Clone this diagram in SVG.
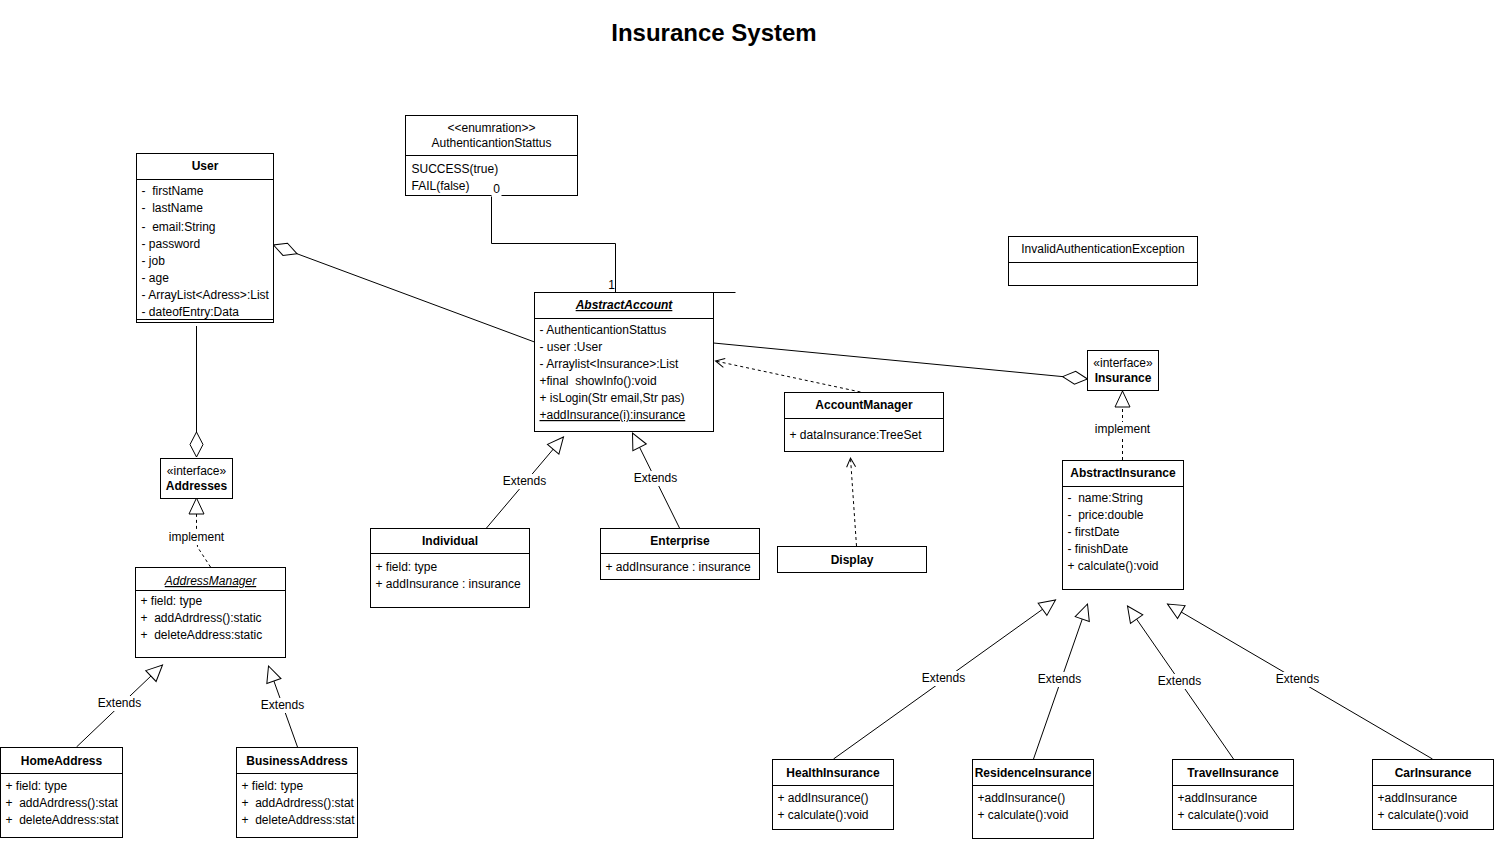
<svg xmlns="http://www.w3.org/2000/svg" width="1494" height="843" viewBox="0 0 1494 843">
<style>
.box{fill:#fff;stroke:#000;stroke-width:1}
.sep{stroke:#000;stroke-width:1;fill:none}
.t{font-family:"Liberation Sans",Arial,Helvetica,sans-serif;font-size:12px;fill:#000}
.b{font-weight:bold}
.c{text-anchor:middle}
.i{font-style:italic}
.u{text-decoration:underline}
.edge{fill:none;stroke:#000;stroke-width:1}
.dash{stroke-dasharray:3 3}
.lbl{fill:#fff;stroke:none}
</style>
<defs>
<marker id="tri" markerUnits="userSpaceOnUse" markerWidth="20" markerHeight="20" viewBox="0 0 20 20" refX="18" refY="10" orient="auto">
<path d="M2,2.5 L18,10 L2,17.5 Z" fill="#fff" stroke="#000"/>
</marker>
<marker id="dia" markerUnits="userSpaceOnUse" markerWidth="28" markerHeight="16" viewBox="0 0 28 16" refX="26.5" refY="8" orient="auto">
<path d="M1.5,8 L14,1.5 L26.5,8 L14,14.5 Z" fill="#fff" stroke="#000"/>
</marker>
<marker id="open" markerUnits="userSpaceOnUse" markerWidth="12" markerHeight="12" viewBox="0 0 12 12" refX="10" refY="6" orient="auto">
<path d="M1,1.5 L10,6 L1,10.5" fill="none" stroke="#000"/>
</marker>
</defs>
<rect x="0" y="0" width="1494" height="843" fill="#fff"/>
<text x="714" y="41" class="t b c" style="font-size:24px">Insurance System</text>
<g transform="translate(0.5,0)">
<g id="connectors">
<path class="edge" d="M491,195.5 V243.5 H615 V292.5"/>
<text x="611" y="289" class="t c">1</text>
<path class="edge" d="M713,292.5 H735"/>
<path class="edge" d="M534,342 L273,245" marker-end="url(#dia)"/>
<path class="edge" d="M196,326 L196,457" marker-end="url(#dia)"/>
<path class="edge" d="M713,343 L1087,379" marker-end="url(#dia)"/>
<path class="edge dash" d="M860,392 L715,361" marker-end="url(#open)"/>
<path class="edge dash" d="M856,546 L850,458" marker-end="url(#open)"/>
<path class="edge dash" d="M210,567 L197,547 L196,528 L196,498" marker-end="url(#tri)"/>
<rect class="lbl" x="166" y="530" width="60" height="15"/>
<text x="196" y="541" class="t c">implement</text>
<path class="edge dash" d="M1122,460 L1122,391" marker-end="url(#tri)"/>
<rect class="lbl" x="1093" y="422" width="58" height="15"/>
<text x="1122" y="433" class="t c">implement</text>
<path class="edge" d="M76,747 L162,665" marker-end="url(#tri)"/>
<rect class="lbl" x="97" y="696" width="44" height="15"/>
<text x="119" y="707" class="t c">Extends</text>
<path class="edge" d="M297,747 L268,666" marker-end="url(#tri)"/>
<rect class="lbl" x="260" y="698" width="44" height="15"/>
<text x="282" y="709" class="t c">Extends</text>
<path class="edge" d="M486,528 L563,437" marker-end="url(#tri)"/>
<rect class="lbl" x="502" y="474" width="44" height="15"/>
<text x="524" y="485" class="t c">Extends</text>
<path class="edge" d="M679,528 L632,433" marker-end="url(#tri)"/>
<rect class="lbl" x="633" y="471" width="44" height="15"/>
<text x="655" y="482" class="t c">Extends</text>
<path class="edge" d="M833,759 L1055,600" marker-end="url(#tri)"/>
<rect class="lbl" x="921" y="671" width="44" height="15"/>
<text x="943" y="682" class="t c">Extends</text>
<path class="edge" d="M1033,759 L1087,604" marker-end="url(#tri)"/>
<rect class="lbl" x="1037" y="672" width="44" height="15"/>
<text x="1059" y="683" class="t c">Extends</text>
<path class="edge" d="M1233,759 L1127,606" marker-end="url(#tri)"/>
<rect class="lbl" x="1157" y="674" width="44" height="15"/>
<text x="1179" y="685" class="t c">Extends</text>
<path class="edge" d="M1432,759 L1167,604" marker-end="url(#tri)"/>
<rect class="lbl" x="1275" y="672" width="44" height="15"/>
<text x="1297" y="683" class="t c">Extends</text>
</g>
<g id="User">
<rect class="box" x="136" y="153.5" width="137" height="169"/>
<path class="sep" d="M136,179.5 H273 M136,319.5 H273"/>
<text x="204.5" y="170" class="t b c">User</text>
<text x="141" y="195" class="t">-&#160; firstName</text>
<text x="141" y="212" class="t">-&#160; lastName</text>
<text x="141" y="231" class="t">-&#160; email:String</text>
<text x="141" y="248" class="t">- password</text>
<text x="141" y="265" class="t">- job</text>
<text x="141" y="282" class="t">- age</text>
<text x="141" y="299" class="t">- ArrayList&lt;Adress&gt;:List</text>
<text x="141" y="316" class="t">- dateofEntry:Data</text>
</g>
<g id="AuthenticantionStattus">
<rect class="box" x="405" y="115.5" width="172" height="80"/>
<path class="sep" d="M405,155.5 H577"/>
<text x="491" y="132" class="t c">&lt;&lt;enumration&gt;&gt;</text>
<text x="491" y="147" class="t c">AuthenticantionStattus</text>
<text x="411" y="173" class="t">SUCCESS(true)</text>
<text x="411" y="190" class="t">FAIL(false)</text>
</g>
<g id="AbstractAccount">
<rect class="box" x="534" y="292.5" width="179" height="139"/>
<path class="sep" d="M534,318.5 H713"/>
<text x="623.5" y="309" class="t b i u c">AbstractAccount</text>
<text x="539" y="334" class="t">- AuthenticantionStattus</text>
<text x="539" y="351" class="t">- user :User</text>
<text x="539" y="368" class="t">- Arraylist&lt;Insurance&gt;:List</text>
<text x="539" y="385" class="t">+final&#160; showInfo():void</text>
<text x="539" y="402" class="t">+ isLogin(Str email,Str pas)</text>
<text x="539" y="419" class="t u">+addInsurance(i):insurance</text>
</g>
<g id="Addresses">
<rect class="box" x="160" y="458.5" width="72" height="40"/>
<text x="196" y="475" class="t c">«interface»</text>
<text x="196" y="490" class="t b c">Addresses</text>
</g>
<g id="AddressManager">
<rect class="box" x="135" y="567.5" width="150" height="90"/>
<path class="sep" d="M135,590.5 H285"/>
<text x="210" y="585" class="t i u c">AddressManager</text>
<text x="140" y="605" class="t">+ field: type</text>
<text x="140" y="622" class="t">+&#160; addAdrdress():static</text>
<text x="140" y="639" class="t">+&#160; deleteAddress:static</text>
</g>
<g id="HomeAddress">
<rect class="box" x="0" y="747.5" width="122" height="90"/>
<path class="sep" d="M0,773.5 H122"/>
<text x="61" y="765" class="t b c">HomeAddress</text>
<text x="5" y="790" class="t">+ field: type</text>
<text x="5" y="807" class="t">+&#160; addAdrdress():stat</text>
<text x="5" y="824" class="t">+&#160; deleteAddress:stat</text>
</g>
<g id="BusinessAddress">
<rect class="box" x="236" y="747.5" width="121" height="90"/>
<path class="sep" d="M236,773.5 H357"/>
<text x="296.5" y="765" class="t b c">BusinessAddress</text>
<text x="241" y="790" class="t">+ field: type</text>
<text x="241" y="807" class="t">+&#160; addAdrdress():stat</text>
<text x="241" y="824" class="t">+&#160; deleteAddress:stat</text>
</g>
<g id="Individual">
<rect class="box" x="370" y="528.5" width="159" height="79"/>
<path class="sep" d="M370,553.5 H529"/>
<text x="449.5" y="545" class="t b c">Individual</text>
<text x="375" y="571" class="t">+ field: type</text>
<text x="375" y="588" class="t">+ addInsurance : insurance</text>
</g>
<g id="Enterprise">
<rect class="box" x="600" y="528.5" width="159" height="51"/>
<path class="sep" d="M600,553.5 H759"/>
<text x="679.5" y="545" class="t b c">Enterprise</text>
<text x="605" y="571" class="t">+ addInsurance : insurance</text>
</g>
<g id="AccountManager">
<rect class="box" x="784" y="392.5" width="159" height="59"/>
<path class="sep" d="M784,418.5 H943"/>
<text x="863.5" y="409" class="t b c">AccountManager</text>
<text x="789" y="439" class="t">+ dataInsurance:TreeSet</text>
</g>
<g id="Display">
<rect class="box" x="777" y="546.5" width="149" height="26"/>
<text x="851.5" y="564" class="t b c">Display</text>
</g>
<g id="InvalidAuthenticationException">
<rect class="box" x="1008" y="236.5" width="189" height="49"/>
<path class="sep" d="M1008,262.5 H1197"/>
<text x="1102.5" y="253" class="t c">InvalidAuthenticationException</text>
</g>
<g id="Insurance">
<rect class="box" x="1087" y="350.5" width="71" height="40"/>
<text x="1122.5" y="367" class="t c">«interface»</text>
<text x="1122.5" y="382" class="t b c">Insurance</text>
</g>
<g id="AbstractInsurance">
<rect class="box" x="1062" y="460.5" width="121" height="129"/>
<path class="sep" d="M1062,486.5 H1183"/>
<text x="1122.5" y="477" class="t b c">AbstractInsurance</text>
<text x="1067" y="502" class="t">-&#160; name:String</text>
<text x="1067" y="519" class="t">-&#160; price:double</text>
<text x="1067" y="536" class="t">- firstDate</text>
<text x="1067" y="553" class="t">- finishDate</text>
<text x="1067" y="570" class="t">+ calculate():void</text>
</g>
<g id="HealthInsurance">
<rect class="box" x="772" y="759.5" width="121" height="70"/>
<path class="sep" d="M772,785.5 H893"/>
<text x="832.5" y="777" class="t b c">HealthInsurance</text>
<text x="777" y="802" class="t">+ addInsurance()</text>
<text x="777" y="819" class="t">+ calculate():void</text>
</g>
<g id="ResidenceInsurance">
<rect class="box" x="972" y="759.5" width="121" height="79"/>
<path class="sep" d="M972,785.5 H1093"/>
<text x="1032.5" y="777" class="t b c">ResidenceInsurance</text>
<text x="977" y="802" class="t">+addInsurance()</text>
<text x="977" y="819" class="t">+ calculate():void</text>
</g>
<g id="TravelInsurance">
<rect class="box" x="1172" y="759.5" width="121" height="70"/>
<path class="sep" d="M1172,785.5 H1293"/>
<text x="1232.5" y="777" class="t b c">TravelInsurance</text>
<text x="1177" y="802" class="t">+addInsurance</text>
<text x="1177" y="819" class="t">+ calculate():void</text>
</g>
<g id="CarInsurance">
<rect class="box" x="1372" y="759.5" width="121" height="70"/>
<path class="sep" d="M1372,785.5 H1493"/>
<text x="1432.5" y="777" class="t b c">CarInsurance</text>
<text x="1377" y="802" class="t">+addInsurance</text>
<text x="1377" y="819" class="t">+ calculate():void</text>
</g>
<g id="connector-labels">
<rect class="lbl" x="491" y="183" width="10" height="14"/>
<text x="496" y="193" class="t c">0</text>
</g>
</g>
</svg>
